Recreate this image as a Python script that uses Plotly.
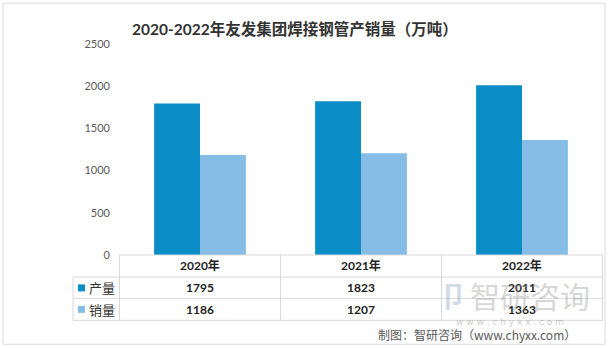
import plotly.graph_objects as go

categories = ["2020年", "2021年", "2022年"]
series_names = ["产量", "销量"]
production = [1795, 1823, 2011]
sales = [1186, 1207, 1363]
y_ticks = [0, 500, 1000, 1500, 2000, 2500]

colors = ["#0a8dc6", "#86bde6"]
W, H = 608, 348
L, R, T, B = 119, 603, 44, 255.5

def py(y):
    return (B - y) / (B - T)

def px(x):
    return (x - L) / (R - L)

fig = go.Figure()
for name, vals, c in zip(series_names, [production, sales], colors):
    fig.add_trace(go.Bar(x=categories, y=vals, name=name, marker=dict(color=c, line=dict(width=0)),
                         showlegend=False))

shapes = []
anns = []
line_c = "#d9d9d9"
# outer border
shapes.append(dict(type="rect", xref="paper", yref="paper", x0=px(3), x1=px(605), y0=py(3), y1=py(345),
                   line=dict(color="#d9d9d9", width=1)))
row_lines = [B, 277.5, 299, 321]
for i, yl in enumerate(row_lines):
    x0 = px(119) if i == 0 else px(73)
    shapes.append(dict(type="line", xref="paper", yref="paper", x0=x0, x1=px(603), y0=py(yl), y1=py(yl),
                       line=dict(color=line_c, width=1)))
# left column border
shapes.append(dict(type="line", xref="paper", yref="paper", x0=px(73), x1=px(73), y0=py(277.5), y1=py(321),
                   line=dict(color=line_c, width=1)))
for k in range(len(categories) + 1):
    shapes.append(dict(type="line", xref="x", yref="paper", x0=k - 0.5, x1=k - 0.5, y0=py(B), y1=py(321),
                       line=dict(color=line_c, width=1)))

row_y = [288.5, 310]
for j, (name, vals, c) in enumerate(zip(series_names, [production, sales], colors)):
    yy = row_y[j]
    shapes.append(dict(type="rect", xref="paper", yref="paper", x0=px(78), x1=px(85), y0=py(yy - 3.5), y1=py(yy + 3.5),
                       fillcolor=c, line=dict(width=0)))
    anns.append(dict(xref="paper", yref="paper", x=px(87), y=py(yy), text=name, showarrow=False,
                     xanchor="left", yanchor="middle", font=dict(size=13, color="#333333", family="Noto Sans CJK SC")))
    for k, v in enumerate(vals):
        anns.append(dict(xref="x", yref="paper", x=k, y=py(yy), text=f"<b>{v}</b>", showarrow=False,
                         xanchor="center", yanchor="middle", font=dict(size=12, color="#222222", family="Lato")))
for k, cat in enumerate(categories):
    anns.append(dict(xref="x", yref="paper", x=k, y=py(266.5), text=f"<b>{cat}</b>", showarrow=False,
                     xanchor="center", yanchor="middle", font=dict(size=12, color="#222222", family="Lato, Noto Sans CJK SC")))

# title
anns.append(dict(xref="paper", yref="paper", x=px(295), y=py(29), text="<b>2020-2022年友发集团焊接钢管产销量（万吨）</b>",
                 showarrow=False, xanchor="center", yanchor="middle",
                 font=dict(size=15.5, color="#333333", family="Lato, Noto Sans CJK SC")))
# watermark
anns.append(dict(xref="paper", yref="paper", x=px(530), y=py(296), text="智研咨询", showarrow=False,
                 xanchor="center", yanchor="middle", font=dict(size=30, color="rgba(150,150,150,0.4)", family="Noto Sans CJK SC")))
anns.append(dict(xref="paper", yref="paper", x=px(453), y=py(296), text="<b>卩</b>", showarrow=False,
                 xanchor="center", yanchor="middle", font=dict(size=28, color="rgba(120,150,190,0.35)", family="Noto Sans CJK SC")))
anns.append(dict(xref="paper", yref="paper", x=px(510), y=py(323), text="w w w . c h y x x . c o m", showarrow=False,
                 xanchor="center", yanchor="middle", font=dict(size=9, color="rgba(150,150,150,0.5)", family="DejaVu Sans")))
# credit
anns.append(dict(xref="paper", yref="paper", x=px(578), y=py(335), text="制图：智研咨询（www.chyxx.com）", showarrow=False,
                 xanchor="right", yanchor="middle", font=dict(size=12, color="#595959", family="Noto Sans CJK SC")))

fig.update_layout(
    width=W, height=H,
    margin=dict(l=L, r=W - R, t=T, b=H - B),
    paper_bgcolor="white", plot_bgcolor="white",
    barmode="group", bargap=0.43, bargroupgap=0,
    shapes=shapes, annotations=anns,
    xaxis=dict(showticklabels=False, showline=False, showgrid=False, zeroline=False, ticks=""),
    yaxis=dict(range=[0, 2500], tickvals=y_ticks, showgrid=False, zeroline=False, showline=False,
               tickfont=dict(size=11, color="#595959", family="Lato"), ticklabelstandoff=8),
)

fig.write_html("out.html")
